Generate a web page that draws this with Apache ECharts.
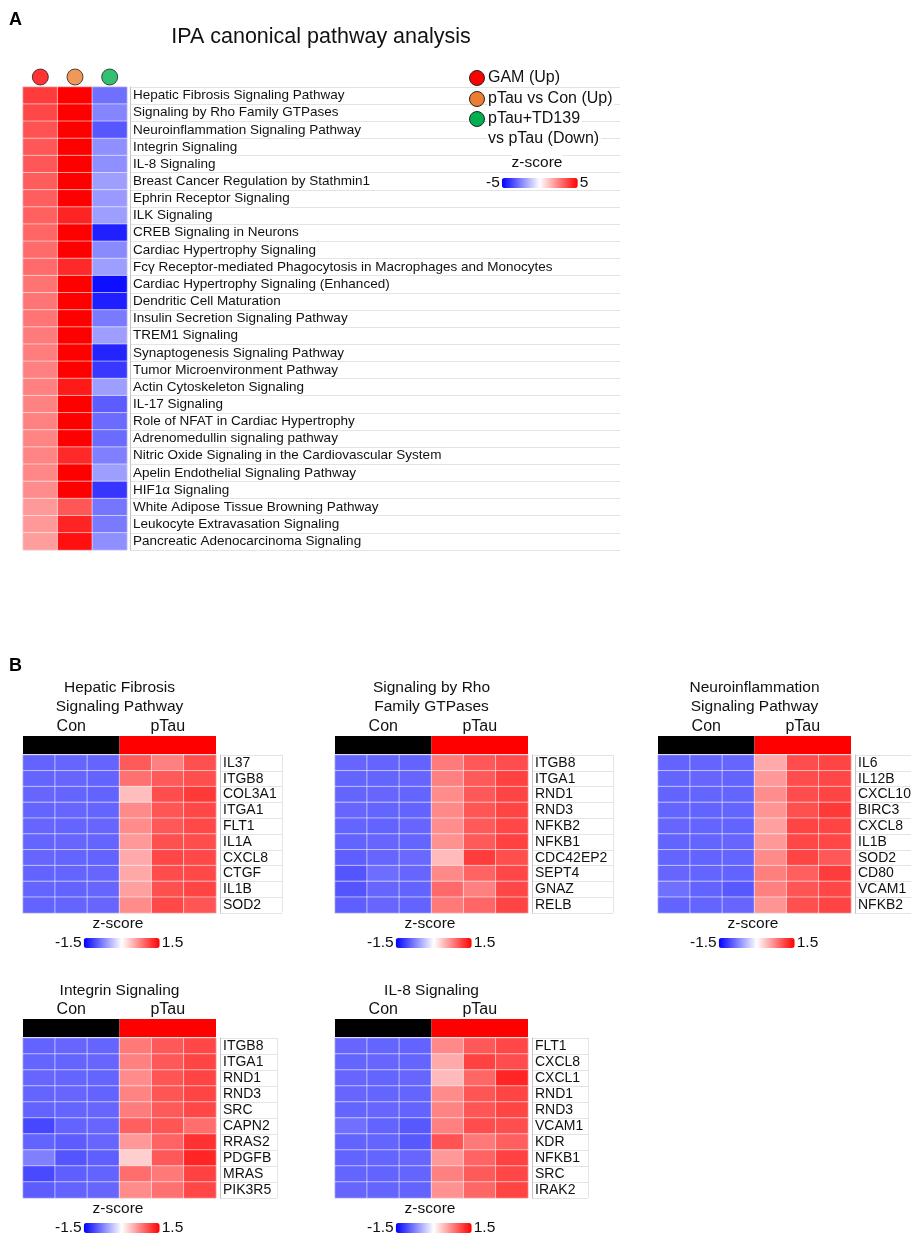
<!DOCTYPE html>
<html><head><meta charset="utf-8">
<script src="https://cdn.jsdelivr.net/npm/echarts@6/dist/echarts.min.js"></script>
<style>html,body{margin:0;padding:0;background:#fff}#c{width:911px;height:1233px}</style>
</head><body><div id="c"></div>
<script>
// ---------- DATA ----------
const pathwayNames = [
 'Hepatic Fibrosis Signaling Pathway','Signaling by Rho Family GTPases','Neuroinflammation Signaling Pathway',
 'Integrin Signaling','IL-8 Signaling','Breast Cancer Regulation by Stathmin1','Ephrin Receptor Signaling',
 'ILK Signaling','CREB Signaling in Neurons','Cardiac Hypertrophy Signaling',
 'Fcγ Receptor-mediated Phagocytosis in Macrophages and Monocytes','Cardiac Hypertrophy Signaling (Enhanced)',
 'Dendritic Cell Maturation','Insulin Secretion Signaling Pathway','TREM1 Signaling',
 'Synaptogenesis Signaling Pathway','Tumor Microenvironment Pathway','Actin Cytoskeleton Signaling',
 'IL-17 Signaling','Role of NFAT in Cardiac Hypertrophy','Adrenomedullin signaling pathway',
 'Nitric Oxide Signaling in the Cardiovascular System','Apelin Endothelial Signaling Pathway',
 'HIF1α Signaling','White Adipose Tissue Browning Pathway','Leukocyte Extravasation Signaling',
 'Pancreatic Adenocarcinoma Signaling'];
const comparisons = ['GAM (Up)','pTau vs Con (Up)','pTau+TD139 vs pTau (Down)'];
const gamZ   = [3.84,3.6,3.4,3.3,3.3,3.2,3.15,3.1,3.0,2.9,2.9,2.75,2.7,2.7,2.6,2.55,2.5,2.5,2.45,2.45,2.4,2.4,2.35,2.25,2.0,2.0,1.95];
const ptauZ  = [5.0,5.0,5.0,5.0,5.0,5.0,5.0,4.3,5.0,5.0,4.2,5.0,5.0,5.0,5.0,5.0,5.0,4.5,5.0,5.0,5.0,4.2,5.0,5.0,3.3,4.3,4.7];
const td139Z = [-2.8,-2.4,-3.3,-2.2,-2.2,-1.9,-2.0,-1.9,-4.4,-2.3,-1.9,-4.7,-4.4,-2.6,-1.9,-4.3,-3.9,-1.9,-3.2,-2.9,-2.9,-2.5,-1.9,-3.95,-2.7,-2.6,-2.2];
const zTicksA = ['-5','5'];

const samples = ['Con1','Con2','Con3','pTau1','pTau2','pTau3'];
const sampleGroups = ['Con','Con','Con','pTau','pTau','pTau'];
const zTicksB = ['-1.5','1.5'];

const hepaticGenes = ['IL37','ITGB8','COL3A1','ITGA1','FLT1','IL1A','CXCL8','CTGF','IL1B','SOD2'];
const hepaticZ = [
 [-0.92,-0.90,-0.91,0.97,0.75,1.03],[-0.91,-0.90,-0.92,0.84,0.97,1.04],[-0.90,-0.91,-0.92,0.39,1.05,1.17],
 [-0.91,-0.90,-0.91,0.69,1.00,1.08],[-0.90,-0.91,-0.90,0.68,0.98,1.07],[-0.91,-0.90,-0.91,0.60,1.03,1.05],
 [-0.90,-0.91,-0.92,0.50,1.08,1.07],[-0.92,-0.91,-0.90,0.51,1.05,1.07],[-0.91,-0.92,-0.90,0.56,1.03,1.10],
 [-0.92,-0.91,-0.90,0.68,1.07,1.00]];
const rhoGenes = ['ITGB8','ITGA1','RND1','RND3','NFKB2','NFKB1','CDC42EP2','SEPT4','GNAZ','RELB'];
const rhoZ = [
 [-0.90,-0.91,-0.92,0.78,0.98,1.05],[-0.91,-0.91,-0.90,0.75,0.97,1.12],[-0.91,-0.90,-0.91,0.68,0.98,1.10],
 [-0.90,-0.91,-0.92,0.70,1.00,1.10],[-0.91,-0.92,-0.90,0.67,0.97,1.08],[-0.92,-0.90,-0.91,0.65,0.97,1.12],
 [-0.94,-0.90,-0.88,0.40,1.15,1.04],[-1.00,-0.86,-0.90,0.70,0.92,1.08],[-1.00,-0.90,-0.92,0.88,0.75,1.08],
 [-0.94,-0.90,-0.92,0.79,0.90,1.10]];
const neuroGenes = ['IL6','IL12B','CXCL10','BIRC3','CXCL8','IL1B','SOD2','CD80','VCAM1','NFKB2'];
const neuroZ = [
 [-0.92,-0.91,-0.90,0.50,1.05,1.10],[-0.91,-0.90,-0.92,0.60,1.05,1.08],[-0.92,-0.91,-0.91,0.67,1.05,1.10],
 [-0.91,-0.92,-0.91,0.63,1.03,1.17],[-0.90,-0.91,-0.92,0.56,1.10,1.10],[-0.92,-0.91,-0.90,0.60,1.08,1.08],
 [-0.91,-0.92,-0.91,0.69,1.10,0.98],[-0.90,-0.91,-0.92,0.76,0.94,1.15],[-0.84,-0.92,-0.98,0.75,1.00,1.08],
 [-0.92,-0.91,-0.90,0.63,1.03,1.10]];
const integrinGenes = ['ITGB8','ITGA1','RND1','RND3','SRC','CAPN2','RRAS2','PDGFB','MRAS','PIK3R5'];
const integrinZ = [
 [-0.92,-0.90,-0.91,0.79,0.98,1.08],[-0.91,-0.91,-0.90,0.75,0.98,1.10],[-0.90,-0.91,-0.91,0.68,1.00,1.10],
 [-0.91,-0.90,-0.92,0.73,1.00,1.10],[-0.92,-0.91,-0.90,0.77,0.97,1.08],[-1.08,-0.92,-0.90,0.94,1.00,0.86],
 [-0.92,-0.96,-0.90,0.60,0.92,1.21],[-0.75,-1.00,-0.94,0.28,0.98,1.28],[-1.07,-0.94,-0.92,0.86,0.79,1.12],
 [-0.96,-0.92,-0.90,0.68,0.84,1.08]];
const il8Genes = ['FLT1','CXCL8','CXCL1','RND1','RND3','VCAM1','KDR','NFKB1','SRC','IRAK2'];
const il8Z = [
 [-0.90,-0.91,-0.92,0.70,0.98,1.08],[-0.91,-0.90,-0.91,0.50,1.12,1.05],[-0.90,-0.91,-0.90,0.40,0.90,1.28],
 [-0.90,-0.91,-0.91,0.68,1.00,1.10],[-0.91,-0.90,-0.92,0.73,1.00,1.10],[-0.84,-0.92,-0.98,0.75,1.05,1.04],
 [-0.92,-0.91,-0.98,1.01,0.79,0.94],[-0.92,-0.91,-0.90,0.60,0.92,1.12],[-0.91,-0.92,-0.91,0.75,0.97,1.08],
 [-0.90,-0.91,-0.92,0.65,0.90,1.10]];

// ---------- STYLE ----------
const FONT = "'Liberation Sans', Arial, sans-serif";
const TXT = '#111';
const compColors = ['#ff0000','#ed7d31','#00b050'];
const groupColors = {Con:'#000000', pTau:'#ff0000'};
const ramp = ['#0000ff','#ffffff','#ff0000'];
const cellStyle = {borderColor:'rgba(255,255,255,0.55)', borderWidth:1};

// groups derived from samples
const groupNames = sampleGroups.filter((g,i)=>sampleGroups.indexOf(g)===i);
const groupCounts = groupNames.map(g=>sampleGroups.filter(s=>s===g).length);

const grids=[], xAxes=[], yAxes=[], series=[], visualMaps=[], graphics=[];
function addGrid(g,x,y){grids.push(g);const i=grids.length-1;x.gridIndex=i;y.gridIndex=i;xAxes.push(x);yAxes.push(y);return i;}
function text(t,x,y,size,opts){graphics.push({type:'text',x:x,y:y,z:100,silent:true,
  style:Object.assign({text:t,fontSize:size,fontFamily:FONT,fill:TXT,textAlign:'center',textVerticalAlign:'middle',verticalAlign:'middle'},opts||{})});}
function labelAxis(names,size){
  return {type:'category',data:names,inverse:true,
    axisLine:{show:true,lineStyle:{color:'#c4c4c4'}},axisTick:{show:false},
    axisLabel:{inside:true,margin:3,interval:0,fontSize:size,fontFamily:FONT,color:TXT},
    splitLine:{show:true,interval:0,lineStyle:{color:'#e4e4e4'}}};
}

// ---------- PANEL A ----------
text('A',9,20,18,{textAlign:'left',fontWeight:'bold',fill:'#000'});
text('IPA canonical pathway analysis',321,37,21.5);

const gA = addGrid({left:23,top:87,width:104,height:463,show:true,borderColor:'#c8c8c8',borderWidth:1},
  {type:'category',data:comparisons,show:false},
  {type:'category',data:pathwayNames,inverse:true,show:false});
const dataA=[];
pathwayNames.forEach((p,i)=>{dataA.push([0,i,gamZ[i]]);dataA.push([1,i,ptauZ[i]]);dataA.push([2,i,td139Z[i]]);});
series.push({type:'heatmap',xAxisIndex:gA,yAxisIndex:gA,data:dataA,itemStyle:cellStyle,emphasis:{disabled:true}});
visualMaps.push({type:'continuous',seriesIndex:series.length-1,min:-5,max:5,orient:'horizontal',
  left:486,top:175,itemWidth:10,itemHeight:76,padding:0,text:[zTicksA[1],zTicksA[0]],textGap:2,calculable:false,hoverLink:false,
  textStyle:{fontSize:15.5,fontFamily:FONT,color:TXT},inRange:{color:ramp}});
text('z-score',537,163,15.5,{backgroundColor:'#fff'});

addGrid({left:130,top:87,width:490,height:463},
  {type:'value',min:0,max:1,show:false}, labelAxis(pathwayNames,13.5));

const gC = addGrid({left:23,top:69,width:104,height:16},
  {type:'category',data:comparisons,show:false},{type:'category',data:[''],show:false});
series.push({type:'scatter',xAxisIndex:gC,yAxisIndex:gC,symbolSize:16,silent:true,
  data:comparisons.map((c,i)=>({value:[i,0],itemStyle:{color:compColors[i]}})),
  itemStyle:{borderColor:'#222',borderWidth:1}});

// legend (decorative)
const legY=[78,99,119];
const legLines=[['GAM (Up)'],['pTau vs Con (Up)'],['pTau+TD139','vs pTau (Down)']];
legY.forEach((y,i)=>{
  graphics.push({type:'circle',z:101,shape:{cx:477,cy:y,r:7.5},silent:true,style:{fill:compColors[i],stroke:'#222',lineWidth:1}});
  legLines[i].forEach((t,j)=>text(t,487,y+j*20,16,{textAlign:'left',backgroundColor:'#fff',padding:[1,2,1,1]}));
});

// ---------- PANEL B ----------
text('B',9,666,18,{textAlign:'left',fontWeight:'bold',fill:'#000'});
const HW=193;
const panels=[
 {title:['Hepatic Fibrosis','Signaling Pathway'],genes:hepaticGenes,z:hepaticZ,hx:23,hy:755,hh:158,lx:220,lw:62,ty:[688,707]},
 {title:['Signaling by Rho','Family GTPases'],genes:rhoGenes,z:rhoZ,hx:335,hy:755,hh:158,lx:532,lw:81,ty:[688,707]},
 {title:['Neuroinflammation','Signaling Pathway'],genes:neuroGenes,z:neuroZ,hx:658,hy:755,hh:158,lx:855,lw:60,ty:[688,707]},
 {title:['Integrin Signaling'],genes:integrinGenes,z:integrinZ,hx:23,hy:1038,hh:160,lx:220,lw:57,ty:[991]},
 {title:['IL-8 Signaling'],genes:il8Genes,z:il8Z,hx:335,hy:1038,hh:160,lx:532,lw:56,ty:[991]}
];
panels.forEach(p=>{
  const cx=p.hx+HW/2;
  p.title.forEach((t,j)=>text(t,cx,p.ty[j],15.5));
  const gG=addGrid({left:p.hx,top:p.hy-19,width:HW,height:18},
    {type:'category',data:groupNames,position:'top',axisLine:{show:false},axisTick:{show:false},
     axisLabel:{interval:0,margin:1,fontSize:16,fontFamily:FONT,color:TXT}},
    {type:'value',min:0,max:1,show:false});
  series.push({type:'bar',xAxisIndex:gG,yAxisIndex:gG,barCategoryGap:'0%',silent:true,
    data:groupNames.map((g,i)=>({value:1,itemStyle:{color:groupColors[g]}}))});
  const gH=addGrid({left:p.hx,top:p.hy,width:HW,height:p.hh,show:true,borderColor:'#c8c8c8',borderWidth:1},
    {type:'category',data:samples,show:false},{type:'category',data:p.genes,inverse:true,show:false});
  const d=[]; p.genes.forEach((g,r)=>samples.forEach((s,c)=>d.push([c,r,p.z[r][c]])));
  series.push({type:'heatmap',xAxisIndex:gH,yAxisIndex:gH,data:d,itemStyle:cellStyle,emphasis:{disabled:true}});
  visualMaps.push({type:'continuous',seriesIndex:series.length-1,min:-1.5,max:1.5,orient:'horizontal',
    left:p.hx+32,top:p.hy+p.hh+22,itemWidth:10,itemHeight:76,padding:0,text:[zTicksB[1],zTicksB[0]],textGap:2,
    calculable:false,hoverLink:false,textStyle:{fontSize:15.5,fontFamily:FONT,color:TXT},inRange:{color:ramp}});
  text('z-score',p.hx+95,p.hy+p.hh+11,15.5);
  addGrid({left:p.lx,top:p.hy,width:p.lw,height:p.hh},
    {type:'value',min:0,max:1,interval:1,axisLine:{show:false},axisTick:{show:false},axisLabel:{show:false},
     splitLine:{show:true,lineStyle:{color:'#e4e4e4'}}},
    labelAxis(p.genes,14));
});

const chart=echarts.init(document.getElementById('c'),null,{renderer:'canvas'});
chart.setOption({animation:false,backgroundColor:'#fff',grid:grids,xAxis:xAxes,yAxis:yAxes,series:series,visualMap:visualMaps,graphic:graphics});
</script></body></html>
